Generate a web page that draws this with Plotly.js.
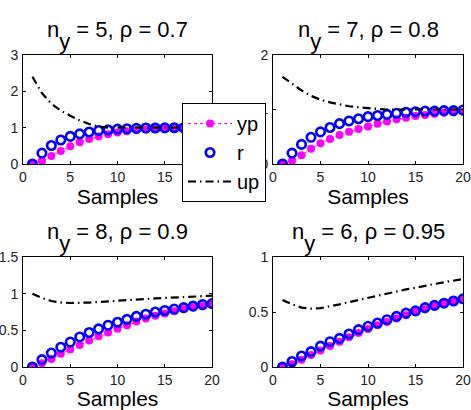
<!DOCTYPE html>
<html>
<head>
<meta charset="utf-8">
<script src="https://cdn.plot.ly/plotly-3.0.1.min.js"></script>
<style>
  html, body { margin: 0; padding: 0; background: #fff; }
  #chart { width: 471px; height: 410px; }
</style>
</head>
<body>
<div id="chart"></div>
<script>
// Sample index shared by all four panels
const samples = [1, 2, 3, 4, 5, 6, 7, 8, 9, 10, 11, 12, 13, 14, 15, 16, 17, 18, 19, 20];

// Panel 1: n_y = 5, rho = 0.7
const yp1 = [0, 0.08, 0.22, 0.36, 0.49, 0.6, 0.69, 0.76, 0.82, 0.87, 0.9, 0.93, 0.95, 0.96, 0.97, 0.98, 0.985, 0.99, 0.99, 0.995];
const r1  = [0, 0.3, 0.51, 0.66, 0.76, 0.83, 0.88, 0.92, 0.94, 0.96, 0.97, 0.98, 0.99, 0.99, 0.995, 0.997, 0.998, 0.998, 0.999, 0.999];
const up1 = [2.4, 1.95, 1.66, 1.47, 1.33, 1.2, 1.1, 1.03, 1.0, 1.0, 1.0, 1.0, 1.0, 1.0, 1.0, 1.0, 1.0, 1.0, 1.0, 1.0];

// Panel 2: n_y = 7, rho = 0.8
const yp2 = [0, 0.06, 0.16, 0.28, 0.38, 0.46, 0.53, 0.59, 0.64, 0.69, 0.74, 0.78, 0.82, 0.85, 0.88, 0.9, 0.92, 0.94, 0.95, 0.96];
const r2  = [0, 0.2, 0.36, 0.49, 0.59, 0.67, 0.74, 0.79, 0.83, 0.87, 0.89, 0.91, 0.93, 0.95, 0.96, 0.97, 0.97, 0.98, 0.98, 0.99];
const up2 = [1.6, 1.47, 1.35, 1.25, 1.18, 1.13, 1.09, 1.06, 1.04, 1.02, 1.01, 1.0, 1.0, 1.0, 1.0, 1.0, 1.0, 1.0, 1.0, 1.0];

// Panel 3: n_y = 8, rho = 0.9
const yp3 = [0, 0.05, 0.11, 0.18, 0.24, 0.3, 0.36, 0.42, 0.47, 0.52, 0.57, 0.62, 0.66, 0.7, 0.73, 0.76, 0.79, 0.81, 0.83, 0.85];
const r3  = [0, 0.1, 0.19, 0.27, 0.34, 0.41, 0.47, 0.52, 0.57, 0.61, 0.65, 0.69, 0.72, 0.75, 0.77, 0.79, 0.81, 0.83, 0.85, 0.865];
const up3 = [1.0, 0.94, 0.9, 0.88, 0.873, 0.873, 0.878, 0.887, 0.897, 0.905, 0.913, 0.92, 0.928, 0.935, 0.942, 0.949, 0.955, 0.961, 0.967, 0.972];

// Panel 4: n_y = 6, rho = 0.95
const yp4 = [0, 0.025, 0.065, 0.11, 0.15, 0.19, 0.23, 0.27, 0.31, 0.345, 0.38, 0.41, 0.44, 0.47, 0.5, 0.525, 0.55, 0.575, 0.6, 0.615];
const r4  = [0, 0.05, 0.1, 0.14, 0.19, 0.23, 0.26, 0.3, 0.34, 0.37, 0.4, 0.43, 0.46, 0.49, 0.51, 0.54, 0.56, 0.58, 0.6, 0.62];
const up4 = [0.61, 0.57, 0.54, 0.53, 0.535, 0.55, 0.57, 0.59, 0.61, 0.63, 0.65, 0.67, 0.69, 0.705, 0.72, 0.74, 0.755, 0.77, 0.785, 0.8];

// Panel titles, y ranges and y ticks (full-size, lowered subscript y)
const SUB_Y = 'n<sub><span style="font-size:22px;baseline-shift:-7px">y</span></sub>';
const titles = [SUB_Y + ' = 5, ρ = 0.7', SUB_Y + ' = 7, ρ = 0.8', SUB_Y + ' = 8, ρ = 0.9', SUB_Y + ' = 6, ρ = 0.95'];
const yRanges = [[0, 3], [0, 2], [0, 1.5], [0, 1]];
const yTicks = [[0, 1, 2, 3], [0, 1, 2], [0, 0.5, 1, 1.5], [0, 0.5, 1]];
const xTicks = [0, 5, 10, 15, 20];
const xLabel = 'Samples';

const panels = [[yp1, r1, up1], [yp2, r2, up2], [yp3, r3, up3], [yp4, r4, up4]];

const FONT = 'Liberation Sans, Arial, Helvetica, sans-serif';
const W = 471, H = 410;
// plot boxes in pixels: [left, right, top, bottom]
const boxes = [[23, 212, 55, 164], [273, 463, 55, 164], [23, 212, 257, 367], [273, 463, 257, 367]];

const traces = [];
const layout = {
  width: W, height: H,
  margin: {l: 0, r: 0, t: 0, b: 0},
  paper_bgcolor: '#fff', plot_bgcolor: '#fff',
  font: {family: FONT, color: '#000'},
  showlegend: true,
  legend: {
    x: 182 / W, y: 1 - 103 / H, xanchor: 'left', yanchor: 'top',
    bgcolor: '#fff', bordercolor: '#000', borderwidth: 1,
    font: {family: FONT, size: 20, color: '#000'},
    itemwidth: 44, tracegroupgap: 0
  },
  annotations: []
};

panels.forEach((p, i) => {
  const n = i + 1;
  const xa = 'x' + (n === 1 ? '' : n), ya = 'y' + (n === 1 ? '' : n);
  const b = boxes[i];
  traces.push({
    x: samples, y: p[0], xaxis: xa, yaxis: ya, name: 'yp', showlegend: i === 0,
    mode: 'lines+markers', legendgroup: 'yp',
    line: {color: '#ff00ff', width: 1, dash: 'dot'},
    marker: {color: '#ff00ff', size: 8}
  });
  traces.push({
    x: samples, y: p[1], xaxis: xa, yaxis: ya, name: 'r', showlegend: i === 0,
    mode: 'markers', legendgroup: 'r',
    marker: {symbol: 'circle-open', color: '#0000ff', size: 8.5, line: {width: 2.6, color: '#0000ff'}}
  });
  traces.push({
    x: samples, y: p[2], xaxis: xa, yaxis: ya, name: 'up', showlegend: i === 0,
    mode: 'lines', legendgroup: 'up',
    line: {color: '#000', width: 2.2, dash: '8px,4px,1.5px,4px'}
  });

  const axCommon = {
    showgrid: false, zeroline: false, showline: true, linecolor: '#000', linewidth: 1,
    mirror: 'ticks', ticks: 'inside', ticklen: 3, tickcolor: '#000',
    tickfont: {family: FONT, size: 14, color: '#222'}
  };
  layout['xaxis' + (n === 1 ? '' : n)] = Object.assign({}, axCommon, {
    domain: [b[0] / W, b[1] / W], anchor: ya,
    range: [0, 20], tickvals: xTicks, ticklabelstandoff: 0,
    title: {text: xLabel, font: {family: FONT, size: 21, color: '#000'}, standoff: 0}
  });
  layout['yaxis' + (n === 1 ? '' : n)] = Object.assign({}, axCommon, {
    domain: [1 - b[3] / H, 1 - b[2] / H], anchor: xa,
    range: yRanges[i], tickvals: yTicks[i], ticklabelstandoff: 1
  });
  layout.annotations.push({
    xref: 'paper', yref: 'paper', x: (b[0] + b[1]) / 2 / W, y: 1 - (b[2] - 40) / H,
    xanchor: 'center', yanchor: 'top', showarrow: false,
    text: titles[i], font: {family: FONT, size: 22, color: '#000'}
  });
});

Plotly.newPlot('chart', traces, layout, {staticPlot: true, displayModeBar: false});
</script>
</body>
</html>
